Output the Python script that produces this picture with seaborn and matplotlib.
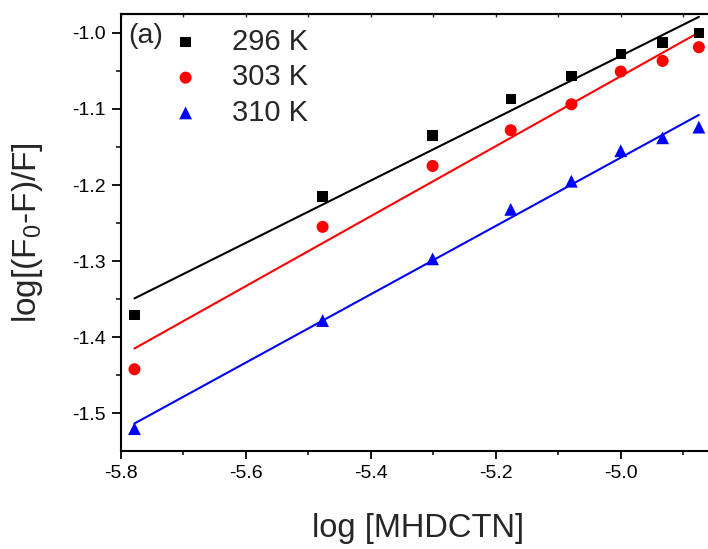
import matplotlib
matplotlib.use("Agg")
import matplotlib.pyplot as plt
import seaborn as sns
import pandas as pd
from matplotlib.ticker import MultipleLocator

log_conc = [-5.778, -5.477, -5.301, -5.176, -5.079, -5.000, -4.933, -4.875]
y_296 = [-1.371, -1.215, -1.135, -1.087, -1.057, -1.028, -1.013, -1.000]
y_303 = [-1.442, -1.255, -1.175, -1.128, -1.094, -1.051, -1.037, -1.019]
y_310 = [-1.520, -1.378, -1.297, -1.232, -1.195, -1.155, -1.138, -1.124]
temps = ['296 K', '303 K', '310 K']
colors = ['black', 'red', 'blue']
markers = ['s', 'o', '^']
msizes = [55, 75, 85]

rows = []
for t, ys in zip(temps, [y_296, y_303, y_310]):
    for x, y in zip(log_conc, ys):
        rows.append({'x': x, 'y': y, 'T': t})
df = pd.DataFrame(rows)

sns.set_theme(style="ticks")
plt.rcParams['font.family'] = ['Liberation Sans', 'DejaVu Sans']
plt.rcParams['mathtext.fontset'] = 'custom'
plt.rcParams['mathtext.rm'] = 'Liberation Sans'
plt.rcParams['mathtext.it'] = 'Liberation Sans:italic'

fig = plt.figure(figsize=(7.08, 5.49), dpi=100)
# right edge of the frame lies just outside the picture, as in the original
ax = fig.add_axes([0.1705, 0.179, 0.8475, 0.7955])

for t, c, m, s in zip(temps, colors, markers, msizes):
    sub = df[df['T'] == t]
    sns.regplot(data=sub, x='x', y='y', scatter=False, ci=None, color=c,
                line_kws={'lw': 1.5}, ax=ax)
    sns.scatterplot(data=sub, x='x', y='y', color=c, marker=m, s=s,
                    edgecolor='none', ax=ax, zorder=3, label=t)

ax.set_xlim(-5.8, -4.84)
ax.set_ylim(-1.549, -0.9754)
ax.set_xticks([-5.8, -5.6, -5.4, -5.2, -5.0])
ax.set_xticklabels(['-5.8', '-5.6', '-5.4', '-5.2', '-5.0'])
ax.xaxis.set_minor_locator(MultipleLocator(0.1))
ax.set_yticks([-1.5, -1.4, -1.3, -1.2, -1.1, -1.0])
ax.set_yticklabels(['-1.5', '-1.4', '-1.3', '-1.2', '-1.1', '-1.0'])
ax.yaxis.set_minor_locator(MultipleLocator(0.05))
ax.tick_params(which='major', direction='out', length=6.5, width=1.3,
               labelsize=14, colors='black', pad=4)
ax.tick_params(which='minor', direction='out', length=3.5, width=1.3)
ax.tick_params(axis='x', which='major', length=6)
ax.tick_params(axis='x', which='minor', length=3)
for s in ax.spines.values():
    s.set_linewidth(1.5)
    s.set_color('black')

# small inward ticks on the top frame
top = ax.secondary_xaxis('top')
top.xaxis.set_major_locator(MultipleLocator(0.1))
top.tick_params(direction='in', length=2, width=1, labeltop=False)
top.spines['top'].set_linewidth(1.5)

ax.set_xlabel('log [MHDCTN]', fontsize=23.5)
ax.xaxis.set_label_coords(0.495, -0.1427)
ax.set_ylabel('log[(F$_0$-F)/F]', fontsize=24)
ax.yaxis.set_label_coords(-0.126, 0.5)

handles, labels = ax.get_legend_handles_labels()
ax.legend(handles, labels, loc='upper left',
          bbox_to_anchor=(171 / 708, 1 - 28 / 549), bbox_transform=fig.transFigure,
          frameon=False, fontsize=21, markerscale=1.0, handlelength=1.0,
          handletextpad=1.1, labelspacing=0.25, borderpad=0, borderaxespad=0)
fig.text(128 / 708, 1 - 23 / 549, '(a)', fontsize=20.5, va='top', ha='left')

fig.savefig('out.png', dpi=100)
